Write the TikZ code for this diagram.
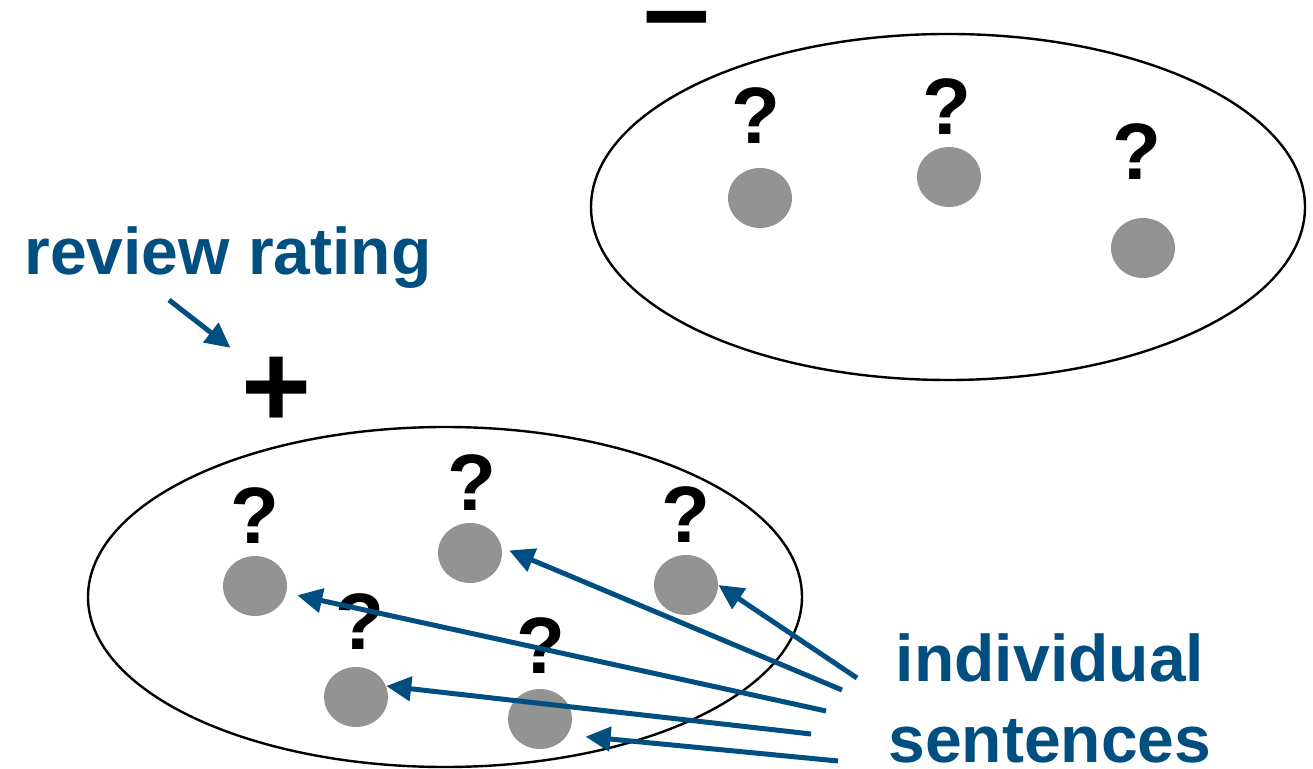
\documentclass[tikz,border=0pt]{standalone}
\usepackage{fontspec}
\setmainfont{Liberation Sans}
\usetikzlibrary{shapes.geometric,arrows.meta}

\definecolor{azul}{HTML}{004F80}
\definecolor{gris}{HTML}{939393}

\tikzset{
    oracion/.style={ellipse,fill=gris,minimum width=32pt,minimum height=30pt,inner sep=0pt},
    duda/.style={font=\fontsize{40}{40}\selectfont\bfseries,inner sep=0pt},
    signo/.style={font=\fontsize{60}{60}\selectfont\bfseries,inner sep=0pt},
    etiqueta/.style={text=azul,font=\fontsize{33}{40.5}\selectfont\bfseries,inner sep=0pt},
    flecha/.style={draw=azul,line width=2.5pt,-{Triangle[length=12.5pt,width=12pt]}}
}

\begin{document}
\begin{tikzpicture}[x=0.5pt,y=-0.5pt]
    \useasboundingbox (0,0) rectangle (1313,769);

    % Grupos
    \begin{scope}[line width=1.2pt]
        \draw (948,207) ellipse [x radius=357,y radius=173];
        \draw (445,597) ellipse [x radius=357,y radius=170];
    \end{scope}

    \node[signo,anchor=base] (menos) at (677,50) {–};
    \node[signo] (mas) at (277,392) {+};

    % Oraciones
    \foreach \n/\x/\y in {1/255/586, 2/470/553, 3/686/585, 4/356/697,
                          5/540/719, 6/760/198, 7/949/177, 8/1143/248}
        \node[oracion] (s\n) at (\x,\y) {};
    \foreach \n/\x/\y in {1/255/516, 2/472/483, 3/686/515, 4/360/622,
                          5/541/646, 6/756/116, 7/947/107, 8/1137/152}
        \node[duda] (q\n) at (\x,\y) {?};

    % Etiquetas
    \node[etiqueta,anchor=base] (rating) at (228,275) {review rating};
    \node[etiqueta,align=center] (frases) at (1050,698) {individual\\sentences};

    \coordinate (t0) at (169,300);
    \coordinate (t1) at (826,711);
    \coordinate (t2) at (842,690);
    \coordinate (t3) at (857,678);
    \coordinate (t4) at (811,734);
    \coordinate (t5) at (838,761);

    \draw[flecha,shorten >=7pt] (t0) -- (mas.north west);
    \draw[flecha,shorten >=5.5pt] (t1) -- (s1);
    \draw[flecha,shorten >=4pt] (t2) -- (s2.10);
    \draw[flecha] (t3) -- (s3.east);
    \draw[flecha] (t4) -- (s4.20);
    \draw[flecha,shorten >=9pt] (t5) -- (s5.330);
\end{tikzpicture}
\end{document}
